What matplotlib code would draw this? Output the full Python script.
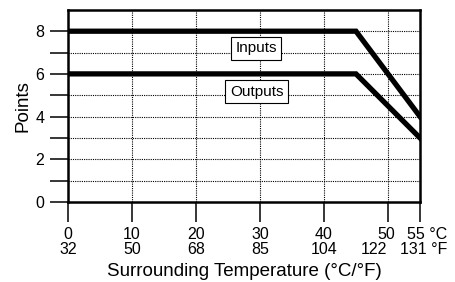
import matplotlib.pyplot as plt
from matplotlib.transforms import offset_copy

plt.rcParams['font.family'] = ['Liberation Sans', 'DejaVu Sans']

# data
temp_c = [0, 45, 55]
inputs = [8, 8, 4]
outputs = [6, 6, 3]

xticks = [0, 10, 20, 30, 40, 50, 55]
c_labels = ["0", "10", "20", "30", "40", "50", "55 °C"]
f_labels = ["32", "50", "68", "85", "104", "122", "131 °F"]
yticks = [0, 2, 4, 6, 8]

fig = plt.figure(figsize=(4.56, 2.82), dpi=100)
ax = fig.add_axes([0.149, 0.284, 0.772, 0.681])

ax.plot(temp_c, inputs, color='black', lw=3.8, solid_joinstyle='miter', zorder=3)
ax.plot(temp_c, outputs, color='black', lw=3.8, solid_joinstyle='miter', zorder=3)

ax.set_xlim(0, 55)
ax.set_ylim(0, 9.0)

for v in [10, 20, 30, 40, 50]:
    ax.axvline(v, color='black', lw=0.8, ls=(0, (1, 1)), zorder=1)
for v in range(1, 9):
    ax.axhline(v, color='black', lw=0.8, ls=(0, (1, 1)), zorder=1)

ax.set_xticks(xticks)
ax.set_xticklabels([''] * len(xticks))
ax.set_yticks(yticks)
ax.set_yticklabels([str(v) for v in yticks], fontsize=11.5)
ax.set_yticks([1, 3, 5, 7], minor=True)

ax.tick_params(axis='x', direction='out', length=14.5, width=1.1)
ax.tick_params(axis='y', which='both', direction='out', length=13, width=1.1, pad=4)

# two-line temperature labels under the ticks
tr = ax.get_xaxis_transform()
for i, x in enumerate(xticks):
    if i == len(xticks) - 1:
        dx1, dx2, ha = 27, 27, 'right'
    elif i == len(xticks) - 2:
        dx1, dx2, ha = -2, -14, 'center'
    else:
        dx1, dx2, ha = 0, 0, 'center'
    t1 = offset_copy(tr, fig=fig, x=dx1, y=-25, units='dots')
    t2 = offset_copy(tr, fig=fig, x=dx2, y=-40, units='dots')
    ax.text(x, 0, c_labels[i], transform=t1, ha=ha, va='top', fontsize=11.5)
    ax.text(x, 0, f_labels[i], transform=t2, ha=ha, va='top', fontsize=11.5)

for s in ax.spines.values():
    s.set_linewidth(1.8)

box = dict(boxstyle='square,pad=0.3', fc='white', ec='black', lw=0.8)
ax.text(29.4, 7.2, "Inputs", ha='center', va='center', fontsize=11, bbox=box, zorder=4)
ax.text(29.5, 5.17, "Outputs", ha='center', va='center', fontsize=11, bbox=box, zorder=4)

ax.set_xlabel("Surrounding Temperature (°C/°F)", fontsize=13.5, labelpad=26)
ax.set_ylabel("Points", fontsize=13.5, labelpad=3)

fig.savefig("out.png", dpi=100)
